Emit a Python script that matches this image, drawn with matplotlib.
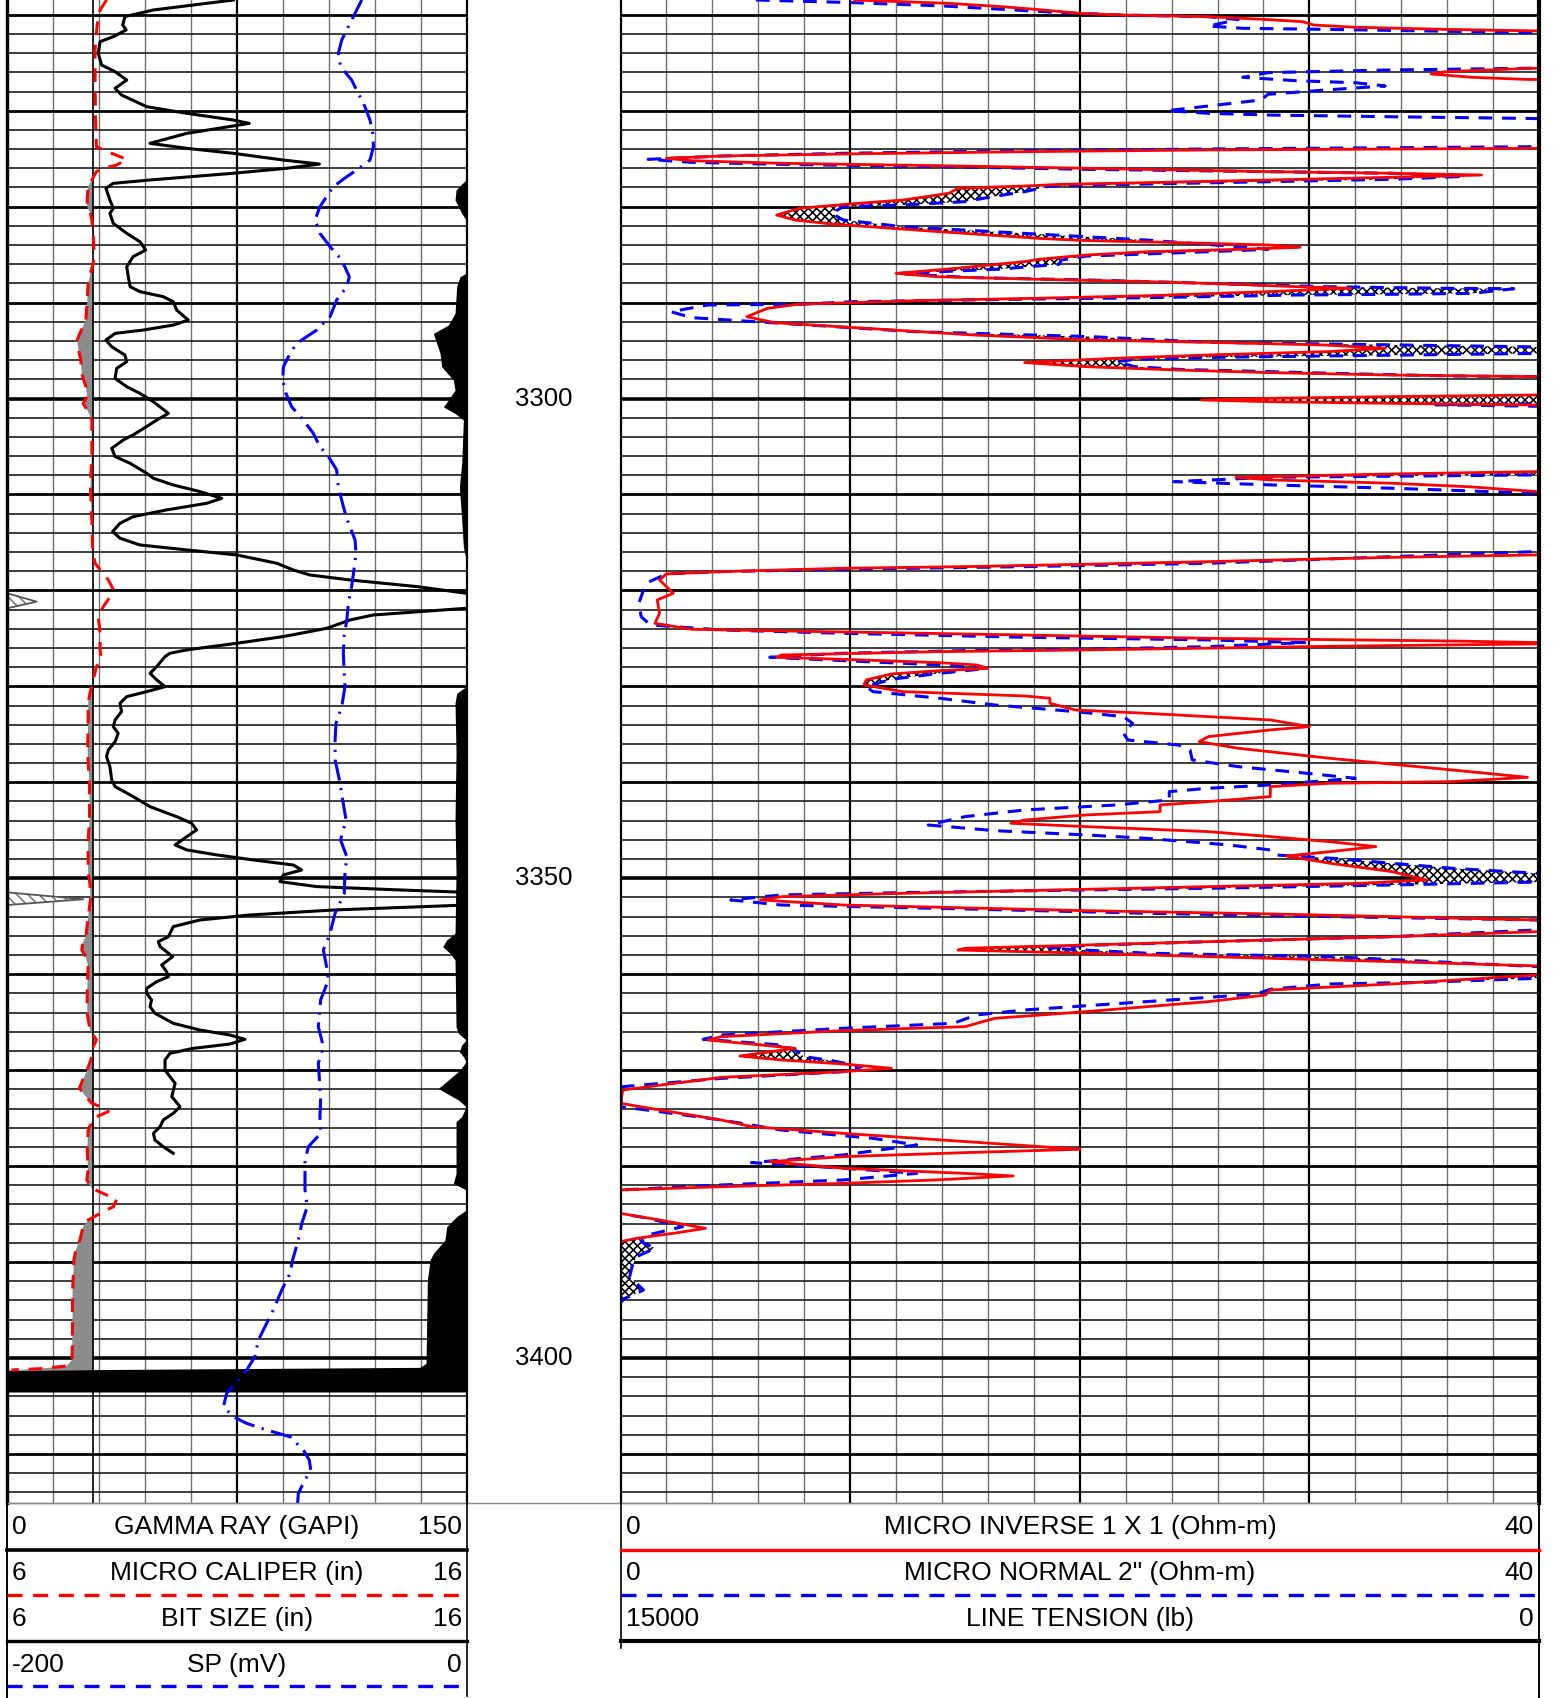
"""Micro-log well log plot: GR / caliper / SP track and micro-resistivity track."""

import numpy as np
import matplotlib
matplotlib.use('Agg')
import matplotlib.pyplot as plt

plt.rcParams['font.family'] = ['Liberation Sans', 'DejaVu Sans']
plt.rcParams['hatch.linewidth'] = 1.15

W, H = 1554, 1698

TOP_DEPTH = 3258.46
BASE_DEPTH = 3415.15
DEPTH_LABELS = [3300, 3350, 3400]
BIT_SIZE = 7.875

# Gamma ray (GAPI), values above 150 wrap onto the backup scale
GR_DEPTH = [3258.46, 3259.50, 3260.19, 3261.06, 3261.58, 3262.28, 3262.80, 3264.02, 3265.24, 3265.93,
            3266.80, 3267.67, 3268.36, 3269.58, 3270.27, 3270.97, 3271.32, 3271.59, 3272.36, 3273.40,
            3273.92, 3274.44, 3275.14, 3275.56, 3276.00, 3276.52, 3277.22, 3277.57, 3278.09, 3279.31,
            3280.17, 3280.70, 3281.74, 3282.78, 3283.65, 3284.52, 3285.21, 3286.26, 3287.30, 3288.34,
            3288.86, 3289.38, 3289.91, 3290.78, 3291.82, 3292.34, 3292.86, 3293.21, 3293.90, 3294.60,
            3295.47, 3296.16, 3296.86, 3297.90, 3298.77, 3299.46, 3300.33, 3301.55, 3302.24, 3302.92,
            3303.79, 3304.31, 3305.18, 3306.05, 3306.75, 3307.79, 3308.31, 3309.01, 3309.70, 3310.40,
            3310.92, 3311.61, 3312.31, 3313.00, 3313.87, 3314.56, 3315.26, 3315.78, 3316.30, 3317.17,
            3317.87, 3318.39, 3318.91, 3319.60, 3320.30, 3321.17, 3321.86, 3322.56, 3323.08, 3323.95,
            3324.81, 3325.51, 3326.20, 3326.55, 3326.90, 3327.94, 3328.64, 3329.33, 3330.03, 3330.55,
            3331.07, 3331.76, 3332.63, 3333.50, 3334.20, 3334.89, 3335.76, 3336.63, 3337.32, 3338.37,
            3339.76, 3340.45, 3341.49, 3342.54, 3343.58, 3344.27, 3344.97, 3345.66, 3346.53, 3347.05,
            3347.57, 3348.09, 3348.62, 3349.14, 3349.66, 3350.35, 3350.87, 3351.22, 3351.47, 3352.19,
            3352.79, 3353.31, 3353.83, 3354.35, 3355.04, 3356.09, 3356.61, 3357.13, 3358.17, 3359.04,
            3359.73, 3360.26, 3360.78, 3361.47, 3361.99, 3362.69, 3363.38, 3364.08, 3365.12, 3365.82,
            3366.34, 3366.79, 3367.28, 3367.73, 3368.25, 3368.94, 3369.99, 3370.68, 3371.37, 3372.76,
            3373.81, 3374.50, 3375.20, 3375.89, 3376.59, 3377.28, 3377.98, 3378.67]
GR = [73.8, 47.7, 38.4, 37.7, 38.8, 34.6, 30.3, 29.7, 30.8, 35.2,
      39.0, 35.2, 37.3, 45.5, 58.6, 73.8, 79.0, 73.8, 58.6, 46.6,
      58.6, 73.8, 90.1, 101.9, 91.2, 73.8, 46.6, 34.6, 32.2, 33.5,
      34.6, 33.5, 34.6, 39.0, 43.3, 45.2, 41.1, 39.0, 39.5, 40.1,
      43.3, 50.9, 54.2, 55.3, 59.1, 54.2, 44.4, 35.2, 32.2, 34.1,
      38.4, 39.0, 35.7, 35.2, 39.0, 43.3, 47.7, 52.6, 48.8, 45.5,
      41.1, 37.9, 34.1, 35.2, 40.1, 45.5, 47.7, 54.2, 62.9, 70.0,
      65.1, 52.0, 41.1, 36.8, 34.4, 36.8, 43.3, 58.6, 74.9, 88.0,
      93.4, 98.8, 111.9, 133.7, 150.0, 159.6, 150.0, 119.5, 111.9, 104.3,
      90.1, 74.9, 58.6, 53.1, 51.5, 48.8, 46.6, 48.8, 51.5, 45.5,
      39.0, 36.8, 37.3, 35.2, 34.6, 36.2, 35.2, 33.0, 32.4, 33.5,
      34.1, 35.2, 41.1, 46.6, 55.3, 60.2, 61.8, 58.6, 54.8, 58.6,
      68.4, 80.3, 93.4, 96.1, 90.1, 89.0, 101.0, 128.2, 150.0, 174.8,
      150.0, 106.5, 79.2, 62.9, 54.2, 52.6, 49.3, 49.9, 54.0, 50.4,
      52.0, 52.6, 48.8, 45.5, 45.5, 47.1, 46.6, 48.2, 54.2, 62.9,
      72.7, 77.6, 72.7, 60.7, 53.1, 51.5, 51.5, 53.1, 54.8, 53.7,
      56.4, 54.2, 50.9, 49.9, 47.7, 48.2, 50.9, 54.2]

# Micro caliper (in)
CAL_DEPTH = [3258.46, 3259.50, 3260.54, 3261.93, 3263.67, 3267.14, 3270.62, 3273.75, 3274.44, 3275.07,
             3275.66, 3276.00, 3276.35, 3277.22, 3277.91, 3278.96, 3280.00, 3280.70, 3281.39, 3282.78,
             3284.87, 3285.91, 3286.95, 3288.00, 3289.73, 3291.82, 3293.21, 3293.90, 3294.94, 3295.99,
             3297.38, 3298.77, 3299.81, 3300.51, 3301.20, 3302.24, 3305.70, 3309.18, 3312.65, 3316.13,
             3317.17, 3318.91, 3319.95, 3320.65, 3321.69, 3322.73, 3324.47, 3326.20, 3327.25, 3327.94,
             3329.33, 3330.72, 3331.76, 3333.50, 3336.98, 3340.45, 3343.93, 3346.01, 3349.48, 3350.53,
             3352.26, 3354.00, 3356.09, 3356.78, 3357.48, 3358.17, 3359.21, 3361.65, 3364.08, 3365.82,
             3366.86, 3367.55, 3368.60, 3369.99, 3371.03, 3371.90, 3372.76, 3373.46, 3373.98, 3374.33,
             3374.85, 3375.37, 3376.24, 3378.32, 3380.41, 3381.45, 3382.32, 3383.01, 3383.47, 3384.23,
             3384.75, 3385.62, 3386.32, 3387.71, 3388.75, 3389.79, 3393.26, 3396.74, 3400.21, 3400.84,
             3401.12, 3401.26]
CAL = [8.16, 8.02, 7.97, 7.94, 7.91, 7.91, 7.92, 7.94, 8.27, 8.60,
       8.38, 8.09, 7.94, 7.84, 7.76, 7.74, 7.74, 7.81, 7.84, 7.87,
       7.89, 7.87, 7.81, 7.76, 7.74, 7.71, 7.58, 7.52, 7.55, 7.60,
       7.62, 7.71, 7.74, 7.65, 7.74, 7.84, 7.84, 7.81, 7.84, 7.86,
       7.91, 8.20, 8.31, 8.24, 8.09, 7.98, 8.02, 8.02, 8.05, 7.94,
       7.87, 7.80, 7.76, 7.76, 7.75, 7.79, 7.79, 7.76, 7.76, 7.80,
       7.81, 7.76, 7.71, 7.64, 7.62, 7.71, 7.76, 7.74, 7.74, 7.80,
       7.94, 7.87, 7.84, 7.74, 7.64, 7.57, 7.71, 7.84, 8.13, 8.20,
       7.94, 7.84, 7.76, 7.74, 7.76, 7.73, 7.84, 8.16, 8.38, 8.31,
       8.09, 7.76, 7.65, 7.58, 7.49, 7.45, 7.42, 7.42, 7.41, 7.29,
       6.71, 6.09]

# SP (mV)
SP_DEPTH = [3258.46, 3259.85, 3261.24, 3262.63, 3264.02, 3265.41, 3266.80, 3268.19, 3269.58, 3270.97,
            3272.36, 3273.75, 3275.14, 3276.18, 3276.88, 3277.92, 3278.96, 3280.00, 3281.39, 3282.78,
            3284.17, 3285.56, 3287.30, 3288.34, 3289.73, 3291.47, 3292.86, 3293.56, 3294.25, 3295.30,
            3296.69, 3298.08, 3299.46, 3300.86, 3302.24, 3303.62, 3305.01, 3306.05, 3307.44, 3309.18,
            3311.26, 3312.65, 3314.74, 3316.13, 3317.87, 3319.60, 3321.34, 3323.08, 3324.81, 3326.55,
            3328.29, 3330.03, 3332.11, 3333.85, 3335.59, 3337.67, 3339.76, 3341.84, 3343.93, 3346.01,
            3347.75, 3349.48, 3351.57, 3353.65, 3355.74, 3357.48, 3359.21, 3360.60, 3362.69, 3365.47,
            3367.55, 3369.29, 3371.03, 3373.11, 3374.85, 3376.59, 3377.98, 3379.37, 3382.49, 3384.23,
            3385.97, 3387.71, 3389.79, 3391.18, 3392.92, 3395.00, 3396.74, 3398.13, 3399.87, 3401.26,
            3402.30, 3403.69, 3405.08, 3406.12, 3406.82, 3407.51, 3408.21, 3409.60, 3410.64, 3411.68,
            3412.72, 3414.11, 3415.15]
SP = [-45.7, -48.6, -51.5, -54.4, -55.9, -54.9, -50.1, -47.2, -44.3, -42.1,
      -40.9, -40.6, -42.1, -47.9, -52.2, -58.1, -61.0, -63.9, -66.0, -63.9,
      -59.5, -54.4, -51.1, -52.2, -56.6, -59.5, -65.3, -69.7, -74.0, -76.9,
      -79.8, -80.1, -78.7, -76.2, -71.1, -66.8, -63.9, -60.2, -56.6, -55.9,
      -53.7, -52.0, -48.6, -48.2, -49.1, -50.1, -51.5, -52.2, -53.4, -53.7,
      -53.4, -53.0, -54.4, -56.9, -57.3, -57.3, -55.4, -54.0, -52.5, -54.9,
      -52.2, -53.0, -53.3, -57.3, -59.5, -62.4, -61.0, -60.2, -63.6, -64.6,
      -62.4, -64.6, -64.1, -63.6, -63.9, -63.6, -68.9, -70.4, -70.4, -69.4,
      -71.8, -73.3, -75.8, -76.9, -80.5, -84.2, -87.8, -90.7, -92.2, -95.8,
      -99.4, -104.5, -105.9, -101.6, -95.8, -87.1, -76.9, -71.1, -68.5, -67.9,
      -70.4, -73.3, -73.6]

# Line tension (lb)
TEN_DEPTH = [3258.46, 3277.22, 3277.64, 3278.26, 3279.31, 3280.00, 3280.70, 3281.39, 3286.95, 3287.30,
             3288.34, 3291.12, 3292.34, 3293.21, 3294.25, 3295.30, 3296.69, 3298.08, 3299.12, 3300.16,
             3300.86, 3301.55, 3302.24, 3306.75, 3309.18, 3312.65, 3315.43, 3316.82, 3330.03, 3330.72,
             3331.76, 3336.98, 3343.93, 3349.48, 3355.74, 3356.43, 3357.13, 3357.82, 3358.52, 3365.47,
             3366.16, 3366.86, 3367.38, 3368.07, 3368.60, 3369.12, 3369.99, 3371.03, 3371.90, 3372.42,
             3373.11, 3373.81, 3374.85, 3375.37, 3380.76, 3381.80, 3382.49, 3384.58, 3385.27, 3386.32,
             3387.71, 3389.10, 3389.79, 3391.87, 3400.56, 3400.98, 3401.30, 3403.55]
TENSION = [0, 20, 163, 348, 381, 272, 163, 20, 20, 218,
           327, 381, 599, 1088, 980, 871, 816, 435, 381, 599,
           762, 381, 109, 163, 239, 163, 109, 20, 20, 327,
           381, 348, 381, 348, 381, 653, 784, 544, 381, 348,
           272, 20, 163, 239, 109, 20, 218, 599, 925, 653,
           272, 20, 163, 348, 348, 435, 20, 20, 327, 653,
           708, 1088, 1197, 1284, 1328, 1524, 16000, 16000]

# Micro inverse 1x1 (ohm-m)
INV_DEPTH = [3258.46, 3258.81, 3259.15, 3259.50, 3259.85, 3260.02, 3260.20, 3260.50, 3260.72, 3261.07,
             3261.30, 3261.52, 3261.66, 3261.85, 3265.40, 3265.60, 3265.93, 3266.17, 3266.52, 3266.73,
             3266.90, 3273.80, 3273.92, 3274.09, 3274.27, 3274.51, 3274.72, 3274.96, 3275.21, 3275.48,
             3275.73, 3276.00, 3276.35, 3276.52, 3276.70, 3276.94, 3277.22, 3277.50, 3277.67, 3277.85,
             3278.09, 3278.61, 3279.31, 3279.72, 3280.17, 3280.87, 3281.39, 3281.81, 3282.61, 3283.30,
             3283.54, 3283.75, 3284.00, 3284.24, 3284.45, 3284.70, 3285.04, 3285.49, 3285.70, 3286.50,
             3286.95, 3287.30, 3287.55, 3287.82, 3288.00, 3288.34, 3288.51, 3288.86, 3289.28, 3289.56,
             3289.80, 3290.18, 3290.60, 3291.47, 3292.09, 3292.61, 3293.38, 3293.90, 3294.14, 3294.42,
             3294.77, 3295.10, 3295.46, 3295.80, 3296.25, 3296.68, 3297.03, 3297.30, 3297.55, 3297.72,
             3297.90, 3299.45, 3299.63, 3299.80, 3299.98, 3300.15, 3300.33, 3300.50, 3300.67, 3300.85,
             3307.40, 3307.62, 3307.86, 3308.21, 3308.48, 3308.83, 3309.20, 3309.70, 3309.90, 3316.10,
             3316.30, 3316.55, 3317.00, 3317.27, 3317.52, 3317.69, 3318.04, 3318.28, 3318.91, 3320.30,
             3320.99, 3322.38, 3323.43, 3324.05, 3324.22, 3324.54, 3324.99, 3325.27, 3325.44, 3325.51,
             3325.58, 3325.79, 3326.03, 3326.20, 3326.38, 3326.73, 3326.97, 3327.18, 3327.53, 3327.77,
             3328.12, 3328.36, 3328.71, 3329.33, 3329.85, 3330.55, 3331.00, 3331.24, 3331.76, 3332.46,
             3332.81, 3333.50, 3334.20, 3334.54, 3335.24, 3335.76, 3336.45, 3337.50, 3338.71, 3339.48,
             3339.93, 3340.10, 3340.45, 3341.49, 3342.01, 3342.36, 3343.06, 3343.40, 3343.93, 3344.27,
             3344.62, 3345.14, 3345.66, 3346.19, 3346.70, 3347.23, 3347.68, 3348.44, 3349.31, 3350.18,
             3350.53, 3350.87, 3351.15, 3351.57, 3351.92, 3352.26, 3352.79, 3353.38, 3353.72, 3354.00,
             3354.35, 3354.50, 3355.40, 3355.57, 3356.09, 3356.61, 3356.96, 3357.30, 3357.48, 3357.82,
             3358.34, 3358.69, 3359.14, 3359.30, 3359.90, 3360.08, 3361.02, 3361.65, 3362.17, 3362.86,
             3363.90, 3364.60, 3365.47, 3365.88, 3366.51, 3366.86, 3367.28, 3367.73, 3368.53, 3368.94,
             3369.36, 3369.81, 3370.16, 3370.75, 3372.07, 3373.46, 3374.15, 3375.20, 3375.89, 3376.59,
             3377.45, 3378.25, 3378.60, 3379.02, 3379.54, 3380.23, 3380.76, 3381.03, 3381.45, 3381.80,
             3382.15, 3382.49, 3382.70, 3384.70, 3384.93, 3385.62, 3386.49, 3387.01, 3387.53, 3387.88,
             3394.20]
MICRO_INV = [10.2, 14.3, 16.6, 18.4, 20.0, 21.8, 25.6, 28.2, 29.7, 30.2,
             32.0, 35.9, 39.4, 44.0, 44.0, 39.4, 35.9, 35.3, 37.1, 39.4,
             44.0, 44.0, 39.9, 25.6, 17.6, 9.7, 4.4, 2.0, 3.1, 7.0,
             13.9, 20.3, 28.3, 33.6, 37.5, 33.6, 28.3, 22.9, 19.2, 17.6,
             14.7, 14.3, 12.3, 10.0, 7.8, 6.8, 7.6, 9.2, 13.9, 18.2,
             20.3, 24.3, 28.3, 29.6, 26.9, 22.9, 20.3, 18.2, 17.7, 14.3,
             12.0, 13.8, 17.9, 23.0, 25.6, 29.5, 31.8, 28.2, 23.0, 17.9,
             12.8, 7.7, 6.4, 5.5, 6.7, 10.2, 15.4, 20.5, 25.6, 30.7,
             33.3, 30.9, 25.6, 21.6, 17.6, 20.3, 24.3, 28.3, 33.6, 39.9,
             44.0, 44.0, 39.9, 33.6, 28.3, 25.3, 28.3, 33.6, 39.9, 44.0,
             44.0, 39.9, 33.6, 26.8, 28.3, 33.6, 37.0, 39.9, 44.0, 44.0,
             39.9, 33.6, 25.6, 20.3, 15.0, 9.7, 4.4, 2.0, 1.7, 2.3,
             1.6, 1.7, 1.5, 3.1, 7.0, 15.0, 25.6, 36.2, 39.9, 42.0,
             39.9, 32.0, 25.3, 20.3, 13.9, 7.0, 6.8, 9.7, 13.9, 15.5,
             16.0, 13.9, 11.8, 10.7, 10.6, 12.3, 17.6, 18.7, 18.7, 19.8,
             22.9, 28.3, 30.0, 28.3, 25.6, 25.2, 26.9, 30.9, 36.2, 39.5,
             36.2, 30.9, 28.3, 28.3, 25.6, 23.5, 23.5, 20.3, 17.6, 17.0,
             20.3, 25.6, 28.3, 30.9, 32.9, 30.9, 29.0, 30.9, 33.6, 35.1,
             32.2, 25.6, 20.3, 12.3, 7.0, 6.1, 9.7, 20.3, 28.3, 33.6,
             39.9, 44.0, 44.0, 39.9, 33.6, 25.6, 20.3, 15.0, 14.7, 20.3,
             28.3, 33.6, 39.9, 44.0, 44.0, 39.9, 33.6, 28.3, 28.1, 25.6,
             20.3, 16.3, 15.0, 9.7, 4.4, 3.8, 5.7, 7.6, 5.2, 7.0,
             9.7, 11.8, 9.7, 4.4, 0.1, 0.0, 1.7, 4.4, 5.7, 9.7,
             15.0, 20.0, 15.0, 9.7, 6.5, 9.7, 15.0, 17.1, 13.7, 9.7,
             4.4, 0.0, -1.5, -1.5, 0.0, 1.7, 3.7, 2.3, 0.7, 0.0,
             0.0]

# Micro normal 2" (ohm-m)
NOR_DEPTH = [3258.46, 3258.74, 3259.09, 3259.43, 3259.78, 3260.02, 3260.20, 3260.50, 3261.17, 3261.41,
             3261.52, 3261.86, 3262.00, 3265.40, 3265.58, 3265.76, 3266.03, 3266.52, 3266.87, 3267.08,
             3267.42, 3267.84, 3268.29, 3268.88, 3269.51, 3270.00, 3270.27, 3270.45, 3270.62, 3270.80,
             3271.00, 3273.60, 3273.75, 3273.99, 3274.16, 3274.44, 3274.72, 3275.07, 3275.38, 3275.59,
             3275.83, 3276.11, 3276.35, 3276.52, 3276.87, 3277.15, 3277.39, 3277.64, 3277.85, 3278.44,
             3278.96, 3279.48, 3279.83, 3280.00, 3280.70, 3281.39, 3282.09, 3282.78, 3283.48, 3284.17,
             3284.45, 3284.70, 3285.15, 3285.56, 3286.00, 3286.50, 3286.95, 3287.05, 3287.40, 3287.65,
             3287.99, 3288.34, 3288.51, 3288.55, 3289.04, 3289.14, 3289.21, 3289.49, 3289.63, 3289.90,
             3290.18, 3290.25, 3290.95, 3291.57, 3291.99, 3293.03, 3293.55, 3294.14, 3294.60, 3294.80,
             3295.20, 3295.30, 3295.50, 3295.70, 3295.90, 3296.15, 3296.68, 3296.96, 3297.20, 3297.44,
             3297.65, 3297.72, 3297.90, 3300.40, 3300.55, 3300.65, 3300.80, 3300.95, 3307.50, 3307.96,
             3308.21, 3308.66, 3309.00, 3309.35, 3309.87, 3310.00, 3315.80, 3315.95, 3316.48, 3317.17,
             3317.52, 3317.80, 3318.04, 3318.28, 3319.26, 3321.34, 3322.73, 3323.60, 3324.12, 3324.47,
             3324.88, 3325.16, 3325.44, 3325.86, 3326.13, 3326.27, 3326.55, 3326.97, 3327.32, 3327.77,
             3328.12, 3328.64, 3329.26, 3330.03, 3330.55, 3331.24, 3331.94, 3332.63, 3333.15, 3333.85,
             3334.89, 3335.59, 3336.11, 3336.63, 3337.67, 3338.37, 3338.99, 3339.58, 3340.28, 3340.62,
             3340.97, 3341.84, 3342.36, 3342.88, 3343.58, 3344.45, 3345.04, 3345.49, 3345.84, 3346.53,
             3347.05, 3347.57, 3347.92, 3348.44, 3348.96, 3349.48, 3349.70, 3350.20, 3350.40, 3350.70,
             3351.05, 3351.22, 3351.50, 3351.74, 3352.26, 3352.79, 3353.20, 3353.65, 3354.00, 3354.35,
             3354.50, 3355.20, 3355.39, 3356.09, 3356.61, 3357.00, 3357.30, 3357.82, 3358.17, 3359.21,
             3359.40, 3360.00, 3360.43, 3360.85, 3361.02, 3361.57, 3362.07, 3362.86, 3363.73, 3364.25,
             3365.12, 3365.64, 3366.34, 3366.79, 3367.38, 3367.90, 3368.60, 3369.01, 3369.64, 3370.16,
             3370.86, 3371.72, 3373.81, 3374.33, 3375.20, 3376.24, 3377.11, 3377.80, 3378.84, 3379.64,
             3380.23, 3380.76, 3381.45, 3381.97, 3382.49, 3382.70, 3384.70, 3384.93, 3385.45, 3386.32,
             3387.18, 3387.88, 3388.57, 3389.45, 3390.48, 3391.53, 3392.92, 3393.78, 3394.20]
MICRO_NOR = [5.9, 10.2, 14.1, 16.6, 19.2, 21.8, 25.6, 26.9, 25.6, 27.1,
             30.7, 39.4, 44.0, 44.0, 39.4, 33.3, 28.2, 27.1, 29.4, 32.0,
             33.3, 30.7, 28.2, 27.9, 25.6, 23.8, 25.6, 28.2, 33.3, 39.4,
             44.0, 44.0, 39.9, 25.6, 17.6, 9.7, 4.4, 1.2, 3.1, 7.0,
             13.9, 20.3, 28.3, 33.6, 36.5, 33.6, 28.3, 22.9, 18.7, 17.6,
             16.2, 15.0, 12.3, 9.7, 9.2, 9.7, 12.3, 17.6, 22.9, 26.9,
             28.2, 25.6, 20.3, 19.2, 19.1, 16.6, 12.3, 12.5, 15.4, 20.5,
             25.6, 30.7, 35.9, 38.9, 37.1, 33.3, 29.4, 23.0, 17.9, 10.2,
             7.7, 3.8, 2.2, 3.1, 5.9, 12.8, 20.5, 25.6, 39.4, 44.0,
             44.0, 39.9, 33.0, 26.0, 22.5, 21.6, 22.4, 24.3, 28.3, 32.2,
             36.2, 39.9, 44.0, 44.0, 39.9, 35.5, 39.9, 44.0, 44.0, 39.9,
             28.3, 24.1, 28.3, 33.6, 39.9, 44.0, 44.0, 39.9, 33.6, 25.6,
             17.6, 9.7, 4.4, 2.0, 1.1, 0.8, 0.9, 1.3, 4.4, 9.7,
             17.6, 25.6, 29.8, 25.6, 20.3, 15.0, 9.7, 6.5, 9.7, 13.9,
             16.0, 13.9, 11.8, 10.7, 11.0, 13.9, 16.3, 19.8, 21.9, 22.3,
             21.9, 22.1, 24.3, 24.8, 24.9, 26.9, 29.6, 32.0, 28.3, 25.6,
             23.9, 23.9, 21.6, 17.6, 15.0, 13.4, 16.3, 20.3, 22.9, 26.5,
             28.3, 28.5, 31.0, 33.6, 36.2, 39.9, 44.0, 44.0, 39.9, 33.6,
             25.6, 20.3, 12.3, 7.0, 4.8, 7.0, 15.0, 22.9, 30.9, 39.9,
             44.0, 44.0, 39.9, 33.6, 25.6, 20.3, 18.7, 23.0, 30.9, 39.9,
             44.0, 44.0, 39.9, 35.0, 30.9, 28.3, 27.7, 22.9, 17.6, 15.5,
             14.5, 9.7, 4.4, 3.6, 7.0, 7.6, 8.0, 9.2, 10.5, 9.7,
             4.4, 0.1, 0.0, 1.7, 4.4, 7.0, 11.0, 12.9, 9.7, 5.7,
             9.7, 12.9, 9.7, 4.4, 0.0, -1.5, -1.5, 0.0, 1.2, 2.7,
             1.2, 0.9, 1.5, 0.7, 0.5, 0.4, 1.0, 0.2, 0.0]

LEFT_HEADER = [("0", "GAMMA RAY (GAPI)", "150"),
               ("6", "MICRO CALIPER (in)", "16"),
               ("6", "BIT SIZE (in)", "16"),
               ("-200", "SP (mV)", "0")]
RIGHT_HEADER = [("0", "MICRO INVERSE 1 X 1 (Ohm-m)", "40"),
                ("0", 'MICRO NORMAL 2" (Ohm-m)', "40"),
                ("15000", "LINE TENSION (lb)", "0")]

RED = '#ff0000'
BLUE = '#0000ff'
DASH = (4.5, 3.2)
DASHDOT = (7, 2.5, 0.7, 2.5)


def px_box(x0, y0, x1, y1):
    """Figure-fraction rectangle from pixel corners (y measured from top)."""
    return [x0 / W, 1 - y1 / H, (x1 - x0) / W, (y1 - y0) / H]


def bare(ax):
    ax.set_xticks([])
    ax.set_yticks([])
    for s in ax.spines.values():
        s.set_visible(False)


def draw_grid(ax, lo, hi, n_div, major_every):
    step = (hi - lo) / n_div
    for i in range(1, n_div):
        major = i % major_every == 0
        ax.axvline(lo + i * step, color='black' if major else '#707070',
                   lw=1.6 if major else 1.0, zorder=1)
    for d in np.arange(3260, BASE_DEPTH, 2):
        if d % 50 == 0:
            lw, c = 2.6, 'black'
        elif d % 10 == 0:
            lw, c = 2.0, 'black'
        else:
            lw, c = 1.2, '#1e1e1e'
        ax.axhline(d, color=c, lw=lw, zorder=1)


def track_spines(ax, left_lw, right_lw):
    ax.set_xticks([])
    ax.set_yticks([])
    ax.spines['top'].set_visible(False)
    ax.spines['bottom'].set_color('#888888')
    ax.spines['bottom'].set_linewidth(1.0)
    ax.spines['left'].set_linewidth(left_lw)
    ax.spines['right'].set_linewidth(right_lw)
    for s in ('left', 'right'):
        ax.spines[s].set_zorder(10)


fig = plt.figure(figsize=(W / 100, H / 100), dpi=100)
fig.patch.set_facecolor('white')

# ---- Track 1: GR, caliper, bit size, SP, tension ----
ax_gr = fig.add_axes(px_box(7.3, 0, 466.7, 1503.3))
ax_gr.set_xlim(0, 150)
ax_gr.set_ylim(BASE_DEPTH, TOP_DEPTH)
draw_grid(ax_gr, 0, 150, 10, 5)
track_spines(ax_gr, 2.4, 1.6)

gr = np.array(GR)
gr_depth = np.array(GR_DEPTH)
ax_gr.fill_betweenx(gr_depth, 0, gr - 150, where=gr >= 150, facecolor='white',
                    edgecolor='#777777', hatch='\\\\\\', lw=0, zorder=2)
ax_gr.plot(np.where(gr >= 150, gr - 150, np.nan), gr_depth, color='#555555', lw=1.3, zorder=3)
ax_gr.plot(gr, gr_depth, color='black', lw=2.2, zorder=4)

ax_ten = ax_gr.twiny()
ax_ten.set_xlim(15000, 0)
bare(ax_ten)
ax_ten.fill_betweenx(TEN_DEPTH, TENSION, 0, color='black', lw=0)

ax_cal = ax_gr.twiny()
ax_cal.set_xlim(6, 16)
bare(ax_cal)
cal = np.array(CAL)
ax_cal.fill_betweenx(CAL_DEPTH, cal, BIT_SIZE, where=cal < BIT_SIZE, interpolate=True,
                     color='#8c8c8c', lw=0)
ax_cal.axvline(BIT_SIZE, color='black', lw=1.2)
ax_cal.plot(cal, CAL_DEPTH, color=RED, lw=2.2, dashes=DASH)

ax_sp = ax_gr.twiny()
ax_sp.set_xlim(-200, 0)
bare(ax_sp)
ax_sp.plot(SP, SP_DEPTH, color=BLUE, lw=2.2, dashes=DASHDOT)

# ---- Depth track ----
ax_d = fig.add_axes(px_box(466.7, 0, 620.5, 1503.3))
ax_d.set_xlim(0, 1)
ax_d.set_ylim(BASE_DEPTH, TOP_DEPTH)
ax_d.axis('off')
for d in DEPTH_LABELS:
    ax_d.text(0.5, d, str(d), ha='center', va='center', fontsize=18.5)

# ---- Track 2: micro resistivity ----
ax_r = fig.add_axes(px_box(620.5, 0, 1539, 1503.3))
ax_r.set_xlim(0, 40)
ax_r.set_ylim(BASE_DEPTH, TOP_DEPTH)
draw_grid(ax_r, 0, 40, 20, 5)
track_spines(ax_r, 1.6, 3.0)

# positive separation (normal > inverse) gets the checker fill
dd = np.union1d(INV_DEPTH, NOR_DEPTH)
inv_i = np.interp(dd, INV_DEPTH, MICRO_INV)
nor_i = np.interp(dd, NOR_DEPTH, MICRO_NOR)
ax_r.fill_betweenx(dd, inv_i, nor_i, where=nor_i > inv_i, interpolate=True,
                   facecolor='white', edgecolor='black', hatch='xxxx', lw=0, zorder=2)
ax_r.plot(MICRO_NOR, NOR_DEPTH, color=BLUE, lw=2.2, dashes=DASH, zorder=3)
ax_r.plot(MICRO_INV, INV_DEPTH, color=RED, lw=2.0, zorder=4)

# ---- Header ----
hd = fig.add_axes([0, 0, 1, 1])
hd.set_xlim(0, W)
hd.set_ylim(H, 0)
hd.axis('off')

hd.plot([7.3, 1539], [1503.3, 1503.3], color='#888888', lw=1.0)
hd.plot([7.3, 7.3], [1503.3, H], color='black', lw=1.4)
hd.plot([466.7, 466.7], [1503.3, 1696], color='black', lw=1.2)
hd.plot([620.5, 620.5], [1503.3, 1648], color='black', lw=1.2)
hd.plot([1539, 1539], [1503.3, H], color='black', lw=1.4)

text_y = [1527, 1573, 1619, 1665]
line_y = [1550, 1595, 1641, 1686]
left_styles = [dict(color='black', lw=2.6), dict(color=RED, lw=2.4, dashes=DASH),
               dict(color='black', lw=2.4), dict(color=BLUE, lw=2.4, dashes=DASH)]
right_styles = [dict(color=RED, lw=2.4), dict(color=BLUE, lw=2.4, dashes=DASH),
                dict(color='black', lw=3.0)]

for (lo, name, hi), ty, ly, st in zip(LEFT_HEADER, text_y, line_y, left_styles):
    hd.text(12, ty, lo, ha='left', va='center', fontsize=19)
    hd.text(237, ty, name, ha='center', va='center', fontsize=19)
    hd.text(462, ty, hi, ha='right', va='center', fontsize=19)
    hd.plot([7.3, 466.7], [ly, ly], **st)

for (lo, name, hi), ty, ly, st in zip(RIGHT_HEADER, text_y, line_y, right_styles):
    hd.text(626, ty, lo, ha='left', va='center', fontsize=19)
    hd.text(1080, ty, name, ha='center', va='center', fontsize=19)
    hd.text(1534, ty, hi, ha='right', va='center', fontsize=19)
    hd.plot([620.5, 1539], [ly, ly], **st)

fig.savefig('out.png', dpi=100)
